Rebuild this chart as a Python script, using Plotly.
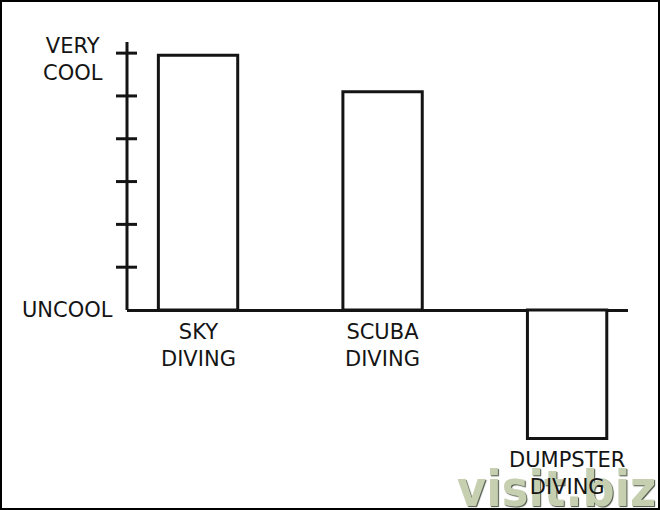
import plotly.graph_objects as go

# ---- data ----
categories = ["SKY<br>DIVING", "SCUBA<br>DIVING", "DUMPSTER<br>DIVING"]
coolness = [5.95, 5.1, -3.0]
minor_ticks = [1, 2, 3, 4, 5, 6]
axis_label_vals = [0, 6]
axis_label_text = ["UNCOOL", "VERY<br>COOL"]

# ---- layout geometry ----
W, H = 660, 510
ML, MR, MT, MB = 127, 32, 42, 60
y_top, y_bottom = 6.26, -3.27
x_left, x_right = -0.385, 2.33
ink = "#141414"
font_family = "DejaVu Sans"
pw = W - ML - MR
ph = H - MT - MB


def px_x(px):
    return (px - ML) / pw


def px_y(py):
    return (H - MB - py) / ph


fig = go.Figure()
fig.add_trace(go.Bar(
    x=categories, y=coolness, width=0.43,
    marker=dict(color="white", line=dict(color=ink, width=3)),
    hoverinfo="skip",
))

annotations = []
# watermark (drawn first so the labels sit on top of it)
annotations.append(dict(
    x=px_x(658), y=px_y(520), xref="paper", yref="paper",
    text="<b>visit.biz</b>", showarrow=False,
    xanchor="right", yanchor="bottom",
    font=dict(family="DejaVu Sans Condensed", size=50, color="#c6cfb0",
              shadow="1px 1px 1px #4a5546"),
))

# category labels: under the axis for positive bars, under the bar for negative
for cat, v in zip(categories, coolness):
    annotations.append(dict(
        x=cat, y=min(v, 0), xref="x", yref="y",
        text=cat, showarrow=False, yanchor="top", yshift=-8,
        font=dict(family=font_family, size=21, color=ink),
        align="center",
    ))

# axis end labels
label_offsets = {0: (-12, 0), 6: (-22, -6)}
for v, txt in zip(axis_label_vals, axis_label_text):
    dx, dy = label_offsets[v]
    annotations.append(dict(
        x=0, y=v, xref="paper", yref="y", text=txt, showarrow=False,
        xanchor="right", yanchor="middle", xshift=dx, yshift=dy,
        align="center",
        font=dict(family=font_family, size=21, color=ink),
    ))

shapes = []
# y axis line (from zero up to the top)
shapes.append(dict(type="line", xref="paper", yref="y", x0=0, x1=0,
                   y0=0, y1=y_top, line=dict(color=ink, width=3)))
# crossing tick marks
for t in minor_ticks:
    shapes.append(dict(type="line", xref="paper", yref="y",
                       x0=-11 / pw, x1=10 / pw, y0=t, y1=t,
                       line=dict(color=ink, width=3)))
# picture border
shapes.append(dict(type="rect", xref="paper", yref="paper",
                   x0=px_x(1), x1=px_x(W - 1), y0=px_y(H - 1), y1=px_y(1),
                   line=dict(color="black", width=2), fillcolor="rgba(0,0,0,0)"))

fig.update_layout(
    width=W, height=H,
    margin=dict(l=ML, r=MR, t=MT, b=MB),
    paper_bgcolor="white", plot_bgcolor="white",
    showlegend=False,
    font=dict(family=font_family, color=ink),
    xaxis=dict(range=[x_left, x_right], showticklabels=False, showgrid=False,
               zeroline=False, showline=False, ticks="", fixedrange=True),
    yaxis=dict(range=[y_bottom, y_top], showgrid=False, zeroline=True,
               zerolinecolor=ink, zerolinewidth=3, showline=False, ticks="",
               showticklabels=False, fixedrange=True),
    annotations=annotations, shapes=shapes,
)

fig.write_html("out.html",
               config={"displayModeBar": False},
               post_script="document.body.style.margin='0';document.body.style.overflow='hidden';")
